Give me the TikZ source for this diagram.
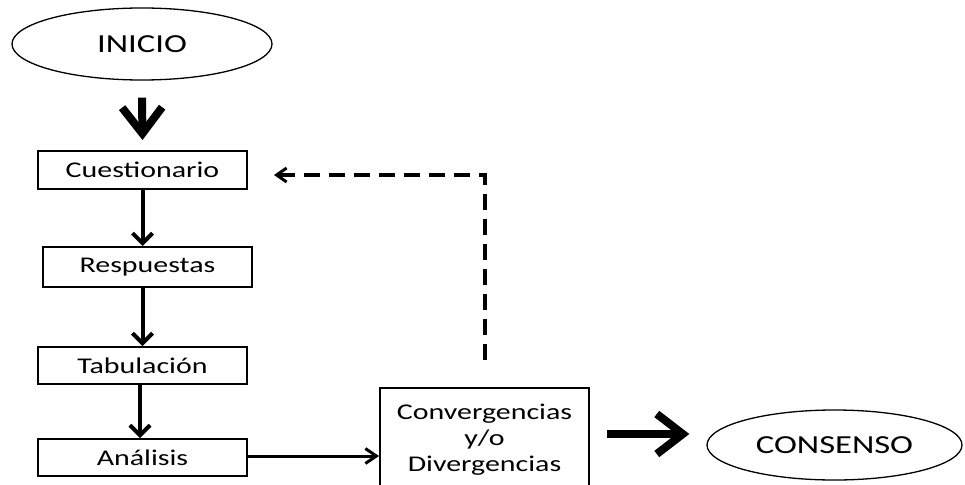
\documentclass[tikz,border=0pt]{standalone}
\usepackage{fontspec}
\setmainfont{Carlito}[FakeStretch=1.33]
\usetikzlibrary{arrows.meta,shapes.geometric}
\begin{document}
\begin{tikzpicture}[x=1pt,y=-1pt,
  stepbox/.style={draw,line width=2pt,rectangle,minimum width=209pt,inner sep=0pt,font=\fontsize{22.5}{26}\selectfont},
  oval/.style={draw,line width=1.3pt,ellipse,inner sep=0pt,font=\fontsize{26}{30}\selectfont},
  thin/.style={line width=4pt,-{Straight Barb[length=10pt,width=20pt,line width=4pt]}},
  medium/.style={line width=3pt,-{Straight Barb[length=11pt,width=15pt,line width=3pt]}},
  bigarrow/.style={line width=8pt,-{Straight Barb[length=26pt,width=40pt,line width=8pt]}},
  fback/.style={line width=4pt,dash pattern=on 16pt off 9pt,line join=miter,-{Straight Barb[length=10pt,width=14pt,line width=3pt]}}]
\useasboundingbox (0,0) rectangle (965,484);
\clip (0,0) rectangle (965,484);
\node[oval,minimum width=260pt,minimum height=72pt] (inicio) at (142,44) {INICIO};
\node[stepbox,minimum height=38pt] (cuest) at (142.5,170) {Cuestionario};
\node[stepbox,minimum height=40pt] (resp) at (147.5,267) {Respuestas};
\node[stepbox,minimum height=37pt] (tab) at (142.5,365.5) {Tabulación};
\node[stepbox,minimum height=37pt] (anal) at (142.5,457.5) {Análisis};
\node[stepbox,minimum height=104pt,align=center] (conv) at (484.5,440) {Convergencias\\y/o\\Divergencias};
\node[oval,minimum width=255pt,minimum height=70pt] (consenso) at (834.5,445) {CONSENSO};
\coordinate (fbstart) at (485,360);
\draw[bigarrow] ([yshift=-17pt]inicio.south) -- ([yshift=10pt]cuest.north);
\draw[thin] (cuest.south) -- (cuest.south |- resp.north);
\draw[thin] (cuest.south |- resp.south) -- (cuest.south |- tab.north);
\draw[thin] ([xshift=-2.5pt]tab.south) -- ([xshift=-2.5pt]tab.south |- anal.north);
\draw[medium] ([yshift=1.5pt]anal.east) -- ([yshift=1.5pt]anal.east -| conv.west);
\draw[bigarrow] ([xshift=17pt,yshift=6pt]conv.east) -- ([xshift=-17pt,yshift=11pt]consenso.west);
\draw[fback] (fbstart) |- ([xshift=26pt,yshift=-5pt]cuest.east);
\end{tikzpicture}
\end{document}
